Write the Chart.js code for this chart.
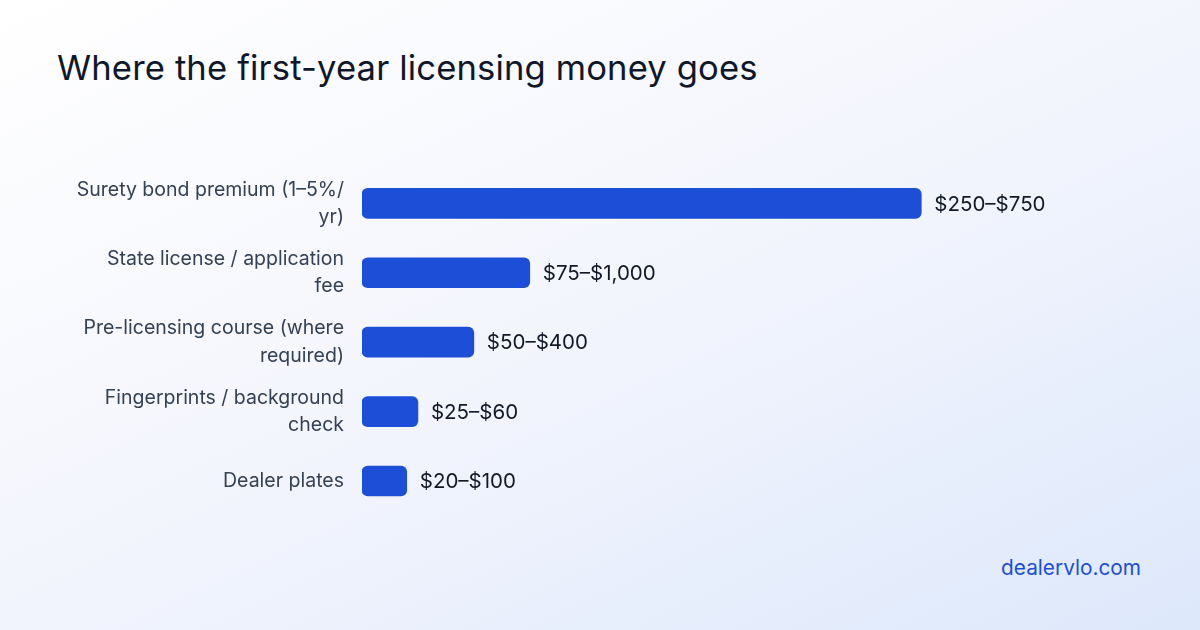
<!DOCTYPE html>
<html><head><meta charset="utf-8">
<script src="https://cdn.jsdelivr.net/npm/chart.js@4"></script>
<style>
html,body{margin:0;padding:0;}
body{width:1200px;height:630px;overflow:hidden;position:relative;font-family:Inter,"Noto Sans",sans-serif;
background:linear-gradient(155deg,#ffffff 0%,#f3f5fd 50%,#dde8fb 100%);}
#title{position:absolute;left:57px;top:46px;font-size:34.6px;color:#0f172a;font-weight:400;letter-spacing:0.15px;}
#foot{position:absolute;right:59px;top:555px;font-size:20.8px;color:#1d4ed8;}
#wrap{position:absolute;left:40px;top:145px;width:1105px;height:408px;}
</style></head><body>
<div id="title">Where the first-year licensing money goes</div>
<div id="wrap"><canvas id="c"></canvas></div>
<div id="foot">dealervlo.com</div>
<script>
const categories=[["Surety bond premium (1–5%/","yr)"],["State license / application","fee"],["Pre-licensing course (where","required)"],["Fingerprints / background","check"],["Dealer plates"]];
const values=[500,150,100,50,40];
const rangeLabels=["$250–$750","$75–$1,000","$50–$400","$25–$60","$20–$100"];
const valuePlugin={id:'vals',afterDatasetsDraw(ch){const ctx=ch.ctx;const m=ch.getDatasetMeta(0);
ctx.save();ctx.font='20.5px Inter, "Noto Sans", sans-serif';ctx.fillStyle='#111827';ctx.textBaseline='middle';
m.data.forEach((b,i)=>{ctx.fillText(rangeLabels[i],b.x+13,b.y+1);});ctx.restore();}};
new Chart(document.getElementById('c'),{type:'bar',
data:{labels:categories,datasets:[{data:values,backgroundColor:'#1d4ed8',borderRadius:6,borderSkipped:false,barThickness:30}]},
options:{indexAxis:'y',responsive:true,maintainAspectRatio:false,animation:false,
layout:{padding:0},
plugins:{legend:{display:false},tooltip:{enabled:false}},
scales:{x:{display:false,min:0,max:700},
y:{grid:{display:false},border:{display:false},afterFit(s){s.width=322;},
ticks:{color:'#334155',font:{size:19.5,family:'Inter, "Noto Sans", sans-serif',lineHeight:1.4},padding:10}}}},
plugins:[valuePlugin]});
</script></body></html>
